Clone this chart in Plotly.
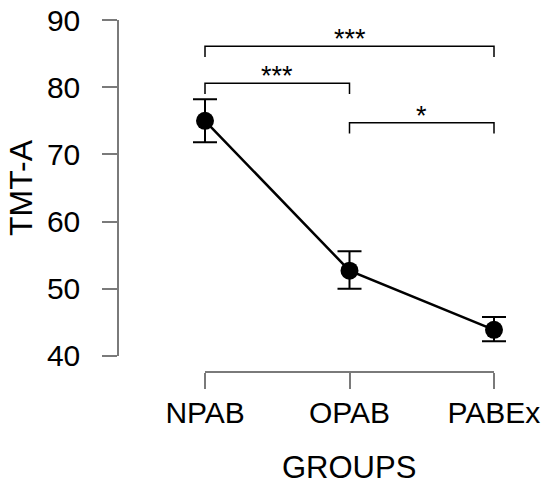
import plotly.graph_objects as go

# data
groups = ["NPAB", "OPAB", "PABEx"]
means = [75.0, 52.7, 43.9]
err_hi = [3.2, 2.9, 1.9]
err_lo = [3.2, 2.7, 1.7]

# significance brackets: (from, to, bar height, label)
br_from = [0, 0, 1]
br_to = [2, 1, 2]
br_top = [86.1, 80.6, 74.7]
br_drop = 1.6
br_text = ["***", "***", "*"]

W, H = 550, 488
FONT = "Liberation Sans, Arial, sans-serif"
AXIS_COL = "#7a7a7a"

# the page puts the figure 8px in from the corner
off = 8
# pixel layout (R style detached axes)
x0_px, x2_px = 205 - off, 494 - off      # category 0 and 2
y40_px, y90_px = 356 - off, 20 - off     # value 40 and 90
yax_px = 118 - off                       # y axis line
xax_px = 372 - off                       # x axis line
pl_left, pl_right, pl_top = yax_px, 537, 2

ppx = (x2_px - x0_px) / 2.0
ppy = (y40_px - y90_px) / 50.0
xr = [(pl_left - x0_px) / ppx, 2 + (pl_right - x2_px) / ppx]
yr = [40 - (xax_px - y40_px) / ppy, 90 + (y90_px - pl_top) / ppy]

xs = list(range(len(groups)))

fig = go.Figure()

fig.add_trace(go.Scatter(
    x=xs, y=means,
    mode="lines+markers",
    line=dict(color="black", width=2.5),
    marker=dict(color="black", size=18),
    error_y=dict(type="data", array=err_hi, arrayminus=err_lo,
                 color="black", thickness=2, width=12),
    cliponaxis=False,
    hoverinfo="y",
))

for a, b, t, txt in zip(br_from, br_to, br_top, br_text):
    fig.add_trace(go.Scatter(
        x=[a, a, b, b], y=[t - br_drop, t, t, t - br_drop],
        mode="lines", line=dict(color="black", width=1.5),
        hoverinfo="skip",
    ))
    fig.add_annotation(
        x=(a + b) / 2, y=t, text=txt, showarrow=False,
        yanchor="bottom", yshift=-10,
        font=dict(family=FONT, size=27, color="black"),
    )

# invisible trace so the display axes get drawn
fig.add_trace(go.Scatter(
    x=xs, y=means, xaxis="x2", yaxis="y2",
    mode="markers", marker=dict(opacity=0), hoverinfo="skip",
))

# axis titles
fig.add_annotation(
    text="TMT-A", textangle=-90, showarrow=False,
    xref="paper", yref="paper", x=(21 - off) / W, y=1 - (188 - off) / H,
    xanchor="center", yanchor="middle",
    font=dict(family=FONT, size=32, color="black"),
)
fig.add_annotation(
    text="GROUPS", showarrow=False,
    xref="paper", yref="paper", x=(349 - off) / W, y=1 - (467 - off) / H,
    xanchor="center", yanchor="middle",
    font=dict(family=FONT, size=31, color="black"),
)

fig.update_layout(
    width=W, height=H,
    margin=dict(l=0, r=0, t=0, b=0, autoexpand=False),
    paper_bgcolor="white", plot_bgcolor="rgba(0,0,0,0)",
    showlegend=False,
    font=dict(family=FONT, size=30, color="black"),
    # hidden axes carrying the data
    xaxis=dict(domain=[pl_left / W, pl_right / W], range=xr, visible=False),
    yaxis=dict(domain=[1 - xax_px / H, 1 - pl_top / H], range=yr, visible=False),
    # visible axes, drawn only over the span of the data
    xaxis2=dict(
        domain=[x0_px / W, x2_px / W], range=[-0.001, 2.001],
        anchor="free", position=1 - xax_px / H,
        tickvals=xs, ticktext=groups,
        showline=True, linecolor=AXIS_COL, linewidth=1.5,
        ticks="outside", ticklen=16, tickwidth=1.5, tickcolor=AXIS_COL,
        ticklabelstandoff=-2, automargin=False, ticklabeloverflow="allow",
        showgrid=False, zeroline=False,
        tickfont=dict(size=30),
    ),
    yaxis2=dict(
        domain=[1 - y40_px / H, 1 - y90_px / H], range=[39.99, 90.01],
        anchor="free", position=yax_px / W,
        tickvals=[40, 50, 60, 70, 80, 90],
        showline=True, linecolor=AXIS_COL, linewidth=1.5,
        ticks="outside", ticklen=15, tickwidth=1.5, tickcolor=AXIS_COL,
        ticklabelstandoff=16, automargin=False, ticklabeloverflow="allow",
        showgrid=False, zeroline=False,
        tickfont=dict(size=30),
    ),
)

fig.write_html("out.html")
